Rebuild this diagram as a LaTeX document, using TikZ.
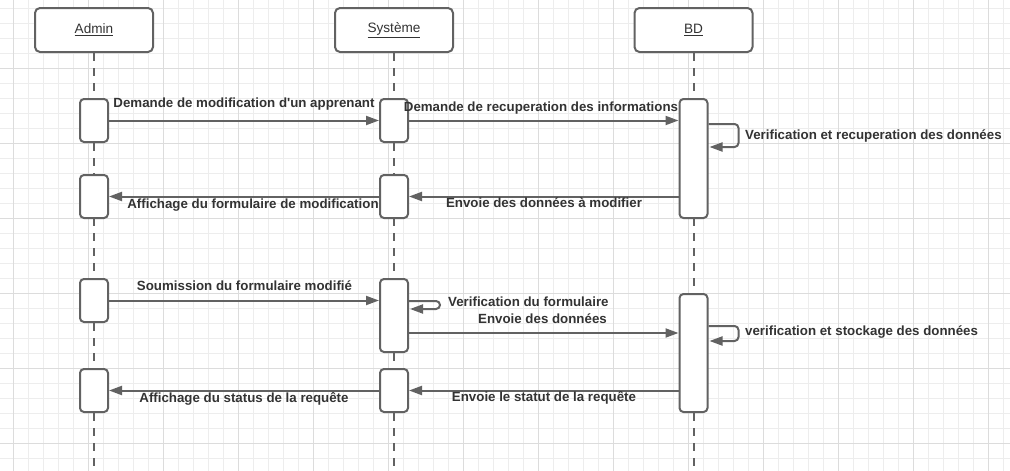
\documentclass[tikz,border=0pt]{standalone}
\usepackage{fontspec}
\setmainfont{Liberation Sans}
\usetikzlibrary{arrows.meta,calc}
\definecolor{lnc}{HTML}{626262}
\definecolor{txc}{HTML}{333333}
\definecolor{gridmin}{HTML}{EDEDED}
\definecolor{gridmaj}{HTML}{DCDCDC}

\begin{document}
\begin{tikzpicture}[x=1pt,y=-1pt,actor/.style={draw=lnc,line width=2pt,rounded corners=5pt,fill=white,minimum width=118pt,minimum height=44pt,text=txc,font=\fontsize{13.6}{15}\selectfont},act/.style={draw=lnc,line width=2pt,rounded corners=4pt,fill=white,minimum width=28pt,inner sep=0pt},life/.style={draw=lnc,line width=2pt,dash pattern=on 8pt off 7pt},msg/.style={draw=lnc,line width=2pt,-{Triangle[length=13pt,width=9pt]}},selfmsg/.style={msg,rounded corners=4pt},lbl/.style={text=txc,inner sep=0pt,font=\bfseries\fontsize{13.3}{15}\selectfont,text height=9.5pt,text depth=2.5pt}]
\def\xa{94}
\def\xs{394}
\def\xb{693.5}

\useasboundingbox (0,0) rectangle (1010,471);
\fill[white] (0,0) rectangle (1010,471);

\foreach \gx in {13.3,28.3,...,1010} \draw[gridmin,line width=1pt] (\gx,0) -- (\gx,471);
\foreach \gy in {8.3,23.3,...,471} \draw[gridmin,line width=1pt] (0,\gy) -- (1010,\gy);
\foreach \gx in {13.3,88.3,...,1010} \draw[gridmaj,line width=1pt] (\gx,0) -- (\gx,471);
\foreach \gy in {68.3,143.3,...,471} \draw[gridmaj,line width=1pt] (0,\gy) -- (1010,\gy);

\node[actor] (admin) at (\xa,30) {\underline{Admin}};
\node[actor] (systeme) at (\xs,30) {\underline{Système}};
\node[actor] (bd) at (\xb,30) {\underline{BD}};

\coordinate (adminend) at (\xa,468);
\coordinate (systemeend) at (\xs,468);
\coordinate (bdend) at (\xb,468);
\draw[life] (admin.south) -- (adminend);
\draw[life] (systeme.south) -- (systemeend);
\draw[life] (bd.south) -- (bdend);

\node[act,minimum height=43pt] (a1) at (\xa,120.5) {};
\node[act,minimum height=43pt] (s1) at (\xs,120.5) {};
\node[act,minimum height=119pt] (b1) at (\xb,158.5) {};
\node[act,minimum height=43pt] (a2) at (\xa,196.5) {};
\node[act,minimum height=43pt] (s2) at (\xs,196.5) {};
\node[act,minimum height=43pt] (a3) at (\xa,300.5) {};
\node[act,minimum height=73pt] (s3) at (\xs,315.5) {};
\node[act,minimum height=118pt] (b2) at (\xb,353) {};
\node[act,minimum height=43pt] (a4) at (\xa,390.5) {};
\node[act,minimum height=43pt] (s4) at (\xs,390.5) {};

\draw[msg] (a1.east) -- (s1.west);
\draw[msg] (s1.east) -- (s1.east -| b1.west);
\draw[selfmsg] ($(b1.north east)+(0,26)$) -- ++(30,0) -- ++(0,23) -- ++(-29,0);
\draw[msg] (s2.east -| b1.west) -- (s2.east);
\draw[msg] (s2.west) -- (a2.east);
\draw[msg] (a3.east) -- (a3.east -| s3.west);
\draw[selfmsg] ($(s3.north east)+(0,23)$) -- ++(31,0) -- ++(0,8) -- ++(-30,0);
\draw[msg] ($(s3.south east)+(0,-20)$) -- ($(s3.south east -| b2.west)+(0,-20)$);
\draw[selfmsg] ($(b2.north east)+(0,33)$) -- ++(30,0) -- ++(0,15) -- ++(-29,0);
\draw[msg] (s4.east -| b2.west) -- (s4.east);
\draw[msg] (s4.west) -- (a4.east);

\node[lbl] (l1) at (244,104) {Demande de modification d\textquotesingle un apprenant};
\node[lbl] (l2) at (541,107.5) {Demande de recuperation des informations};
\node[lbl,anchor=west] (l3) at (745,136) {Verification et recuperation des données};
\node[lbl] (l4) at (544,204) {Envoie des données à modifier};
\node[lbl] (l5) at (253,205) {Affichage du formulaire de modification};
\node[lbl] (l6) at (244.5,287) {Soumission du formulaire modifié};
\node[lbl,anchor=west] (l7) at (448,303) {Verification du formulaire};
\node[lbl,anchor=east] (l8) at (607,320) {Envoie des données};
\node[lbl,anchor=west] (l9) at (745,332) {verification et stockage des données};
\node[lbl] (l10) at (544,398) {Envoie le statut de la requête};
\node[lbl] (l11) at (244,399) {Affichage du status de la requête};

\end{tikzpicture}
\end{document}
